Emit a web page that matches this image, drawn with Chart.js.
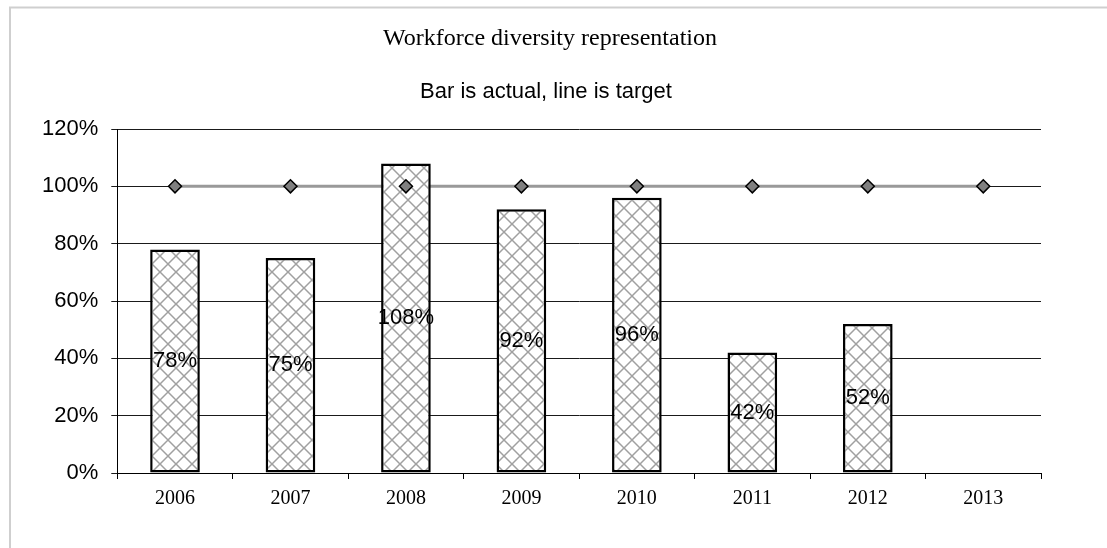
<!DOCTYPE html>
<html>
<head>
<meta charset="utf-8">
<script src="https://cdn.jsdelivr.net/npm/chart.js@4/dist/chart.umd.min.js"></script>
<style>
  html, body { margin: 0; padding: 0; background: #fff; }
  #wrap { width: 1107px; height: 548px; position: relative; }
</style>
</head>
<body>
<div id="wrap"><canvas id="chart" width="1107" height="548"></canvas></div>
<script>
// Years on the category axis
const years = ['2006', '2007', '2008', '2009', '2010', '2011', '2012', '2013'];
// Actual representation per year (percent); 2013 not yet reported
const actual = [78, 75, 108, 92, 96, 42, 52, null];
// Target representation per year (percent)
const target = [100, 100, 100, 100, 100, 100, 100, 100];
// Y axis range and step (percent)
const yMin = 0, yMax = 120, yStep = 20;

const titleText = 'Workforce diversity representation';
const subtitleText = 'Bar is actual, line is target';

const SANS = '"Liberation Sans", Arial, sans-serif';
const SERIF = '"Liberation Serif", "Times New Roman", serif';

// Diagonal cross-hatch fill for the bars
function crossHatch() {
  const size = 16;
  const c = document.createElement('canvas');
  c.width = size; c.height = size;
  const g = c.getContext('2d');
  g.fillStyle = '#ffffff';
  g.fillRect(0, 0, size, size);
  g.strokeStyle = '#a0a0a0';
  g.lineWidth = 1.5;
  g.beginPath();
  g.moveTo(0, 0); g.lineTo(size, size);
  g.moveTo(size, 0); g.lineTo(0, size);
  g.stroke();
  return g.createPattern(c, 'repeat');
}

// Light frame along the top and left edge of the page
const framePlugin = {
  id: 'frame',
  beforeDraw(chart) {
    const ctx = chart.ctx;
    ctx.save();
    ctx.strokeStyle = '#cfcfcf';
    ctx.lineWidth = 2;
    ctx.beginPath();
    ctx.moveTo(10, chart.height);
    ctx.lineTo(10, 7.5);
    ctx.lineTo(chart.width, 7.5);
    ctx.stroke();
    ctx.restore();
  }
};

// Title and subtitle, centred on the framed page area
const headingPlugin = {
  id: 'heading',
  afterDraw(chart) {
    const ctx = chart.ctx;
    ctx.save();
    ctx.fillStyle = '#000';
    ctx.textAlign = 'center';
    ctx.textBaseline = 'middle';
    ctx.font = '24px ' + SERIF;
    ctx.fillText(titleText, 550, 39);
    ctx.font = '22px ' + SANS;
    ctx.fillText(subtitleText, 546, 92);
    ctx.restore();
  }
};

// Value labels centred inside each bar
const barLabelPlugin = {
  id: 'barLabels',
  afterDatasetsDraw(chart) {
    const ctx = chart.ctx;
    const meta = chart.getDatasetMeta(1);
    const data = chart.data.datasets[1].data;
    ctx.save();
    ctx.font = '22px ' + SANS;
    ctx.fillStyle = '#000';
    ctx.textAlign = 'center';
    ctx.textBaseline = 'middle';
    meta.data.forEach((el, i) => {
      if (data[i] == null) return;
      ctx.fillText(data[i] + '%', el.x, (el.y + el.base) / 2);
    });
    ctx.restore();
  }
};

const ctx = document.getElementById('chart').getContext('2d');
new Chart(ctx, {
  data: {
    labels: years,
    datasets: [
      {
        // target line, drawn beneath the bars
        type: 'line',
        data: target,
        borderColor: '#999999',
        borderWidth: 3,
        pointRadius: 0,
        tension: 0,
        order: 3
      },
      {
        type: 'bar',
        data: actual,
        backgroundColor: crossHatch(),
        borderColor: '#000000',
        borderWidth: 2.5,
        borderSkipped: false,
        barPercentage: 0.43,
        categoryPercentage: 1,
        order: 2
      },
      {
        // target markers, drawn above the bars
        type: 'line',
        data: target,
        showLine: false,
        pointStyle: 'rectRot',
        pointRadius: 6.5,
        pointBackgroundColor: '#808080',
        pointBorderColor: '#000000',
        pointBorderWidth: 1.5,
        order: 1
      }
    ]
  },
  options: {
    responsive: false,
    animation: false,
    layout: { padding: { left: 29, right: 66, top: 129, bottom: 29 } },
    plugins: {
      legend: { display: false },
      tooltip: { enabled: false },
      title: { display: false },
      subtitle: { display: false }
    },
    scales: {
      x: {
        offset: true,
        grid: {
          display: true,
          offset: true,
          drawOnChartArea: false,
          drawTicks: true,
          tickLength: 6,
          color: '#000'
        },
        border: { display: true, color: '#000', width: 1 },
        ticks: {
          color: '#000',
          font: { family: SERIF, size: 20 },
          padding: 8,
          maxRotation: 0
        }
      },
      y: {
        min: yMin,
        max: yMax,
        grid: {
          color: '#1a1a1a',
          lineWidth: 1,
          drawTicks: true,
          tickLength: 6
        },
        border: { display: true, color: '#000', width: 1 },
        ticks: {
          stepSize: yStep,
          color: '#000',
          font: { family: SANS, size: 22 },
          padding: 13,
          callback: v => v + '%'
        }
      }
    }
  },
  plugins: [framePlugin, barLabelPlugin, headingPlugin]
});
</script>
</body>
</html>
